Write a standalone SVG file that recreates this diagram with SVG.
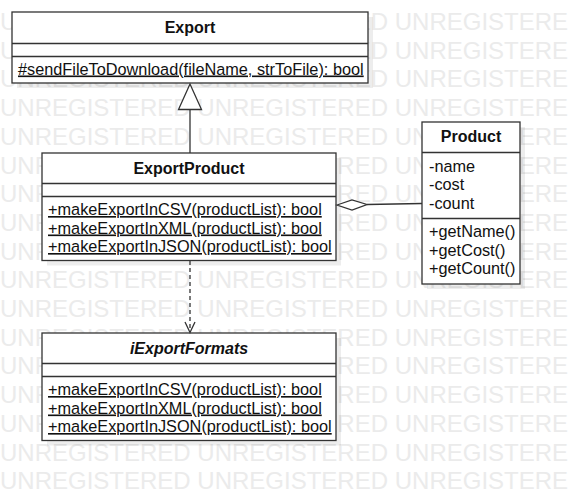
<svg xmlns="http://www.w3.org/2000/svg" width="570" height="491" viewBox="0 0 570 491">
<style>
.wm{font-family:"Liberation Sans",Arial,sans-serif;font-size:24px;fill:#ebebeb}
.box{fill:#fff;stroke:#333;stroke-width:1.3}
.sep{stroke:#333;stroke-width:1.3}
.shadow{fill:#000;fill-opacity:0.07}
.t{font-family:"Liberation Sans",Arial,sans-serif;font-size:16.3px;fill:#111}
.h{font-weight:bold;text-anchor:middle;font-size:16px}
.i{font-style:italic}
.u{text-decoration:underline}
.ln{stroke:#333;stroke-width:1.3;fill:none}
</style>
<rect width="570" height="491" fill="#fff"/>
<g id="watermark">
<text class="wm" x="0" y="30">UNREGISTERED UNREGISTERED UNREGISTERE</text>
<text class="wm" x="0" y="58.7">UNREGISTERED UNREGISTERED UNREGISTERE</text>
<text class="wm" x="0" y="87.4">UNREGISTERED UNREGISTERED UNREGISTERE</text>
<text class="wm" x="0" y="116.1">UNREGISTERED UNREGISTERED UNREGISTERE</text>
<text class="wm" x="0" y="144.8">UNREGISTERED UNREGISTERED UNREGISTERE</text>
<text class="wm" x="0" y="173.5">UNREGISTERED UNREGISTERED UNREGISTERE</text>
<text class="wm" x="0" y="202.2">UNREGISTERED UNREGISTERED UNREGISTERE</text>
<text class="wm" x="0" y="230.9">UNREGISTERED UNREGISTERED UNREGISTERE</text>
<text class="wm" x="0" y="259.6">UNREGISTERED UNREGISTERED UNREGISTERE</text>
<text class="wm" x="0" y="288.3">UNREGISTERED UNREGISTERED UNREGISTERE</text>
<text class="wm" x="0" y="317">UNREGISTERED UNREGISTERED UNREGISTERE</text>
<text class="wm" x="0" y="345.7">UNREGISTERED UNREGISTERED UNREGISTERE</text>
<text class="wm" x="0" y="374.4">UNREGISTERED UNREGISTERED UNREGISTERE</text>
<text class="wm" x="0" y="403.1">UNREGISTERED UNREGISTERED UNREGISTERE</text>
<text class="wm" x="0" y="431.8">UNREGISTERED UNREGISTERED UNREGISTERE</text>
<text class="wm" x="0" y="460.5">UNREGISTERED UNREGISTERED UNREGISTERE</text>
<text class="wm" x="0" y="489.2">UNREGISTERED UNREGISTERED UNREGISTERE</text>
</g>
<g id="Export">
<rect class="shadow" x="17" y="17" width="356" height="71"/>
<rect class="box" x="12" y="12" width="356" height="71"/>
<line class="sep" x1="12" y1="43.5" x2="368" y2="43.5"/>
<line class="sep" x1="12" y1="56.5" x2="368" y2="56.5"/>
<text class="t h" x="190" y="33">Export</text>
<text class="t u" x="18" y="74.5">#sendFileToDownload(fileName, strToFile): bool</text>
</g>
<g id="ExportProduct">
<rect class="shadow" x="47" y="158" width="294" height="107.5"/>
<rect class="box" x="42" y="153" width="294" height="107.5"/>
<line class="sep" x1="42" y1="183.5" x2="336" y2="183.5"/>
<line class="sep" x1="42" y1="196.5" x2="336" y2="196.5"/>
<text class="t h" x="189" y="174">ExportProduct</text>
<text class="t u" x="48" y="215">+makeExportInCSV(productList): bool</text>
<text class="t u" x="48" y="233.5">+makeExportInXML(productList): bool</text>
<text class="t u" x="48" y="252">+makeExportInJSON(productList): bool</text>
</g>
<g id="Product">
<rect class="shadow" x="427" y="127" width="98" height="162"/>
<rect class="box" x="422" y="122" width="98" height="162"/>
<line class="sep" x1="422" y1="152.5" x2="520" y2="152.5"/>
<line class="sep" x1="422" y1="218.5" x2="520" y2="218.5"/>
<text class="t h" x="471" y="142">Product</text>
<text class="t" x="429" y="171.5">-name</text>
<text class="t" x="429" y="190">-cost</text>
<text class="t" x="429" y="208.5">-count</text>
<text class="t" x="429" y="237">+getName()</text>
<text class="t" x="429" y="255.5">+getCost()</text>
<text class="t" x="429" y="274">+getCount()</text>
</g>
<g id="iExportFormats">
<rect class="shadow" x="47" y="338" width="294" height="107.5"/>
<rect class="box" x="42" y="333" width="294" height="107.5"/>
<line class="sep" x1="42" y1="363.5" x2="336" y2="363.5"/>
<line class="sep" x1="42" y1="376.5" x2="336" y2="376.5"/>
<text class="t h i" x="189" y="354">iExportFormats</text>
<text class="t u" x="48" y="395">+makeExportInCSV(productList): bool</text>
<text class="t u" x="48" y="413.5">+makeExportInXML(productList): bool</text>
<text class="t u" x="48" y="432">+makeExportInJSON(productList): bool</text>
</g>
<g id="connectors">
<line class="ln" x1="190" y1="153" x2="190" y2="109.5"/>
<polygon points="190,84 178.5,109.5 201.5,109.5" fill="#fff" stroke="#333" stroke-width="1.3"/>
<line class="ln" x1="190" y1="261" x2="190" y2="332" stroke-dasharray="4 3"/>
<polyline class="ln" points="185,322 190,332.5 195,322"/>
<line class="ln" x1="367" y1="204.5" x2="422" y2="203.5"/>
<polygon points="337,205 352,200 367,204.5 352,210" fill="#fff" stroke="#333" stroke-width="1.3"/>
</g>
</svg>
